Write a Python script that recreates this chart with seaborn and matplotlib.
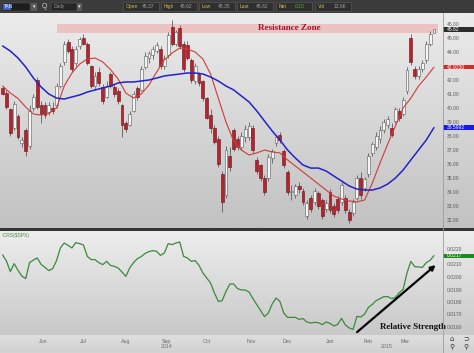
import numpy as np
import pandas as pd
import seaborn as sns
import matplotlib.pyplot as plt
import matplotlib.transforms as mtransforms
from matplotlib.colors import LinearSegmentedColormap
from matplotlib.patches import Rectangle
from matplotlib.lines import Line2D

# TAN daily candles, one every second session from 1 May 2014
candle_open = [41.4, 41.1, 39.9, 38.6, 39.4, 37.5, 38.4, 37.3, 40.0, 42.0,
               40.2, 40.2, 39.7, 40.0, 40.2, 41.6, 43.3, 44.7, 44.2, 43.2,
               44.4, 45.0, 44.6, 43.0, 41.6, 42.6, 41.5, 40.8, 42.4, 41.5,
               41.2, 40.2, 38.9, 38.8, 39.8, 41.4, 41.3, 42.9, 43.6, 43.8,
               44.1, 44.2, 43.0, 43.8, 45.8, 44.6, 45.7, 44.6, 44.5, 43.4,
               41.9, 42.4, 41.9, 40.7, 39.5, 38.6, 37.8, 35.3, 33.8, 36.6,
               38.4, 37.8, 37.2, 37.9, 37.9, 38.6, 36.3, 35.9, 35.0, 35.0,
               36.4, 37.5, 38.1, 36.9, 35.4, 34.0, 33.8, 34.4, 34.1, 32.3,
               33.6, 33.3, 33.9, 33.4, 32.8, 34.0, 33.0, 33.5, 33.3, 33.6,
               32.6, 32.5, 33.6, 35.0, 34.3, 35.3, 36.8, 37.2, 37.8, 38.4,
               38.8, 38.6, 39.1, 39.8, 39.6, 41.2, 45.0, 42.8, 42.3, 42.8,
               43.4, 44.6, 45.37]
candle_high = [41.6, 41.3, 40.0, 40.5, 39.6, 37.9, 38.6, 40.2, 41.0, 42.2,
               40.5, 40.4, 40.4, 40.4, 41.8, 43.2, 44.8, 44.9, 44.4, 44.4,
               45.1, 45.3, 44.7, 43.1, 42.6, 42.9, 41.7, 41.9, 42.6, 41.7,
               41.4, 40.3, 39.1, 39.8, 41.2, 41.6, 43.0, 44.0, 44.1, 44.4,
               44.7, 44.4, 43.8, 45.4, 46.3, 45.6, 45.9, 44.8, 44.8, 43.6,
               43.2, 42.6, 42.0, 40.8, 39.9, 38.8, 38.0, 35.5, 37.3, 37.2,
               38.6, 38.0, 38.3, 38.8, 39.0, 38.8, 36.5, 36.0, 35.2, 36.7,
               37.1, 38.1, 38.3, 37.1, 35.6, 34.5, 34.6, 34.7, 34.3, 33.4,
               33.8, 34.3, 34.1, 33.6, 33.4, 34.2, 33.2, 33.7, 34.7, 33.8,
               32.8, 33.5, 35.2, 35.4, 35.1, 36.8, 37.6, 38.3, 38.7, 39.2,
               39.4, 38.9, 40.1, 40.0, 40.8, 42.9, 45.3, 43.0, 43.0, 43.4,
               44.8, 45.5, 45.62]
candle_low = [40.9, 39.9, 38.0, 38.4, 37.8, 37.2, 36.6, 37.1, 39.8, 39.9,
              38.9, 39.3, 39.5, 39.6, 40.0, 41.4, 43.1, 43.9, 42.6, 43.0,
              44.2, 44.5, 43.1, 41.4, 41.3, 41.6, 40.3, 40.7, 41.4, 40.8,
              40.3, 37.9, 38.3, 38.7, 39.7, 40.6, 41.2, 42.8, 43.2, 43.5,
              43.9, 42.8, 42.8, 43.6, 44.4, 44.4, 44.2, 42.6, 43.4, 41.8,
              41.7, 41.6, 40.5, 39.2, 38.2, 37.4, 35.8, 32.6, 33.6, 35.5,
              36.9, 37.0, 37.0, 37.6, 37.7, 36.8, 35.3, 34.8, 33.8, 34.8,
              36.1, 37.3, 37.5, 35.7, 33.8, 33.4, 33.6, 33.9, 33.1, 32.1,
              32.6, 33.1, 32.8, 32.1, 32.6, 32.5, 32.2, 32.5, 33.1, 32.5,
              31.8, 32.3, 33.4, 33.5, 34.1, 35.1, 36.6, 37.0, 37.5, 38.2,
              38.6, 37.9, 38.9, 39.1, 39.4, 41.0, 43.1, 42.1, 42.1, 42.6,
              43.2, 44.4, 45.35]
candle_close = [41.0, 40.1, 38.2, 40.3, 37.9, 37.7, 36.9, 39.8, 40.8, 40.1,
                39.6, 39.5, 40.2, 39.8, 41.6, 43.0, 44.6, 44.1, 42.8, 44.2,
                44.9, 44.6, 43.2, 41.6, 42.3, 41.8, 40.5, 41.6, 41.6, 41.0,
                40.5, 38.8, 38.5, 39.6, 41.0, 40.8, 42.8, 43.7, 43.9, 44.2,
                44.5, 43.0, 43.6, 45.2, 44.6, 45.4, 44.4, 42.8, 43.6, 42.0,
                43.0, 41.8, 40.7, 39.3, 38.6, 37.6, 36.0, 33.3, 37.0, 35.8,
                37.1, 37.2, 38.0, 38.5, 38.7, 37.0, 35.5, 35.0, 34.0, 36.5,
                36.9, 37.9, 37.7, 35.9, 34.0, 34.1, 34.4, 34.2, 33.3, 33.2,
                32.8, 34.1, 33.0, 32.3, 33.2, 32.7, 32.4, 32.7, 34.5, 32.7,
                32.0, 33.3, 35.0, 33.8, 34.9, 36.6, 37.4, 38.0, 38.4, 39.0,
                39.2, 38.1, 39.9, 39.3, 40.6, 42.7, 43.3, 42.3, 42.8, 43.2,
                44.6, 45.3, 45.62]

# 20-day (red) and 50-day (blue) moving averages, every fourth session
ma_short = [41.57, 41.07, 40.68, 40.07, 39.57, 39.50, 39.61, 40.00, 41.57, 42.50,
            43.14, 43.50, 43.57, 43.29, 42.75, 42.07, 41.07, 40.71, 41.00, 41.64,
            42.57, 43.43, 43.93, 44.29, 44.21, 44.00, 43.50, 42.43, 40.71, 39.00,
            37.64, 37.00, 36.64, 36.79, 37.00, 36.86, 36.79, 36.29, 35.86, 35.43,
            35.00, 34.57, 34.14, 33.71, 33.50, 33.36, 33.29, 33.43, 34.64, 36.07,
            37.43, 38.71, 40.00, 40.71, 41.57, 42.21, 42.92]
ma_long = [44.43, 44.07, 43.57, 42.93, 42.14, 41.50, 41.00, 40.71, 40.64, 40.79,
           40.93, 41.14, 41.29, 41.43, 41.57, 41.79, 41.86, 41.86, 41.93, 42.00,
           42.14, 42.29, 42.36, 42.43, 42.50, 42.50, 42.43, 42.21, 41.93, 41.57,
           41.29, 40.86, 40.43, 39.79, 39.07, 38.36, 37.71, 37.00, 36.43, 35.93,
           35.71, 35.71, 35.50, 35.14, 34.79, 34.43, 34.21, 34.14, 34.14, 34.29,
           34.57, 35.00, 35.57, 36.29, 37.00, 37.71, 38.60]

# CRS($SPX): TAN relative to the S&P 500, same sessions as the candles
rs_values = [0.02176, 0.02128, 0.02043, 0.02107, 0.02053, 0.02008, 0.01987, 0.02115, 0.02136, 0.02152,
             0.02101, 0.02077, 0.02051, 0.02067, 0.02131, 0.02232, 0.02272, 0.02253, 0.02232, 0.02275,
             0.02267, 0.02256, 0.02165, 0.02139, 0.02139, 0.02115, 0.02099, 0.02125, 0.02093, 0.02085,
             0.02072, 0.02040, 0.02005, 0.02072, 0.02115, 0.02147, 0.02163, 0.02189, 0.02203, 0.02211,
             0.02205, 0.02173, 0.02192, 0.02267, 0.02259, 0.02272, 0.02280, 0.02165, 0.02152, 0.02125,
             0.02131, 0.02093, 0.02032, 0.01992, 0.01952, 0.01872, 0.01805, 0.01811, 0.01885, 0.01944,
             0.01944, 0.01907, 0.01896, 0.01896, 0.01880, 0.01827, 0.01779, 0.01731, 0.01683, 0.01712,
             0.01784, 0.01832, 0.01805, 0.01712, 0.01677, 0.01677, 0.01677, 0.01661, 0.01667, 0.01640,
             0.01632, 0.01637, 0.01635, 0.01619, 0.01640, 0.01629, 0.01608, 0.01621, 0.01669, 0.01616,
             0.01592, 0.01581, 0.01685, 0.01680, 0.01704, 0.01757, 0.01781, 0.01811, 0.01827, 0.01843,
             0.01843, 0.01827, 0.01837, 0.01875, 0.01901, 0.02032, 0.02125, 0.02083, 0.02080, 0.02077,
             0.02115, 0.02133, 0.02171]

quote_labels = ["Open", "High", "Low", "Last", "Net", "Vol"]
quote_values = ["45.37", "45.62", "45.35", "45.62", "0.15", "13.6K"]
last_close, last_ma_short, last_ma_long, last_rs = 45.62, 42.9230, 38.5992, 0.0217

# 43.00 is hidden under the moving-average tag in the original
price_ticks = [32, 33, 34, 35, 36, 37, 38, 39, 40, 41, 42, 44, 45, 46]
rs_ticks = [0.0160, 0.0170, 0.0180, 0.0190, 0.0200, 0.0210, 0.0220]

resistance_zone = (45.36, 46.0)
resistance_span = ("2014-06-11", "2015-03-25")
resistance_label_at = "2014-12-02"
strength_label_at = ("2015-03-06", 0.0160)
arrow_from = ("2015-01-22", 0.01545)
arrow_to = ("2015-03-25", 0.02110)

nyse_holidays = ["2014-05-26", "2014-07-04", "2014-09-01", "2014-11-27",
                 "2014-12-25", "2015-01-01", "2015-01-19", "2015-02-16"]

sessions = pd.bdate_range("2014-05-01", "2015-03-31", freq="C", holidays=nyse_holidays)
session_pos = pd.Series(np.arange(len(sessions)), index=sessions)

candles = pd.DataFrame({"open": candle_open, "high": candle_high,
                        "low": candle_low, "close": candle_close})
candles["pos"] = session_pos.values[::2][:len(candles)]
ma = pd.DataFrame({"short": ma_short, "long": ma_long})
ma["pos"] = session_pos.values[::4][:len(ma)]
rs = pd.DataFrame({"rs": rs_values, "pos": candles["pos"]})


def pos_of(day):
    return session_pos.index.get_indexer([pd.Timestamp(day)], method="bfill")[0]


sns.set_theme(style="white")
plt.rcParams["font.family"] = ["Liberation Sans", "DejaVu Sans"]

W, H = 474, 353
TOP, MID, SEP, BOT, RIGHT = 13, 228, 231, 335, 443
fig = plt.figure(figsize=(W / 100, H / 100), dpi=100)


def box(top, bottom, left=0, right=W):
    return [left / W, 1 - bottom / H, (right - left) / W, (bottom - top) / H]


def shaded(rect, c_top, c_bottom):
    bg = fig.add_axes(rect, zorder=0)
    bg.imshow(np.linspace(0, 1, 128).reshape(-1, 1), aspect="auto", extent=[0, 1, 0, 1],
              cmap=LinearSegmentedColormap.from_list("bg", [c_top, c_bottom]))
    bg.set_axis_off()


shaded(box(TOP, MID), "#ececec", "#c2c2c2")
shaded(box(SEP, BOT), "#ededed", "#c9c9c9")
shaded(box(BOT, H), "#dedede", "#d2d2d2")
fig.add_artist(Rectangle((0, 1 - SEP / H), 1, (SEP - MID) / H, transform=fig.transFigure,
                         facecolor="#353535", edgecolor="none", zorder=2))
fig.add_artist(Line2D([RIGHT / W] * 2, [0, 1 - TOP / H], transform=fig.transFigure,
                      color="#9c9c9c", lw=0.6, zorder=3))

xlim = (-1.35, 228.7)

# ---- price panel
ax = fig.add_axes(box(TOP, MID, 0, RIGHT), zorder=1)
ax.set_facecolor("none")
z0, z1 = pos_of(resistance_span[0]), pos_of(resistance_span[1])
ax.add_patch(Rectangle((z0, resistance_zone[0]), z1 - z0, resistance_zone[1] - resistance_zone[0],
                       facecolor="#ebc3c3", edgecolor="none", zorder=1))
ax.text(pos_of(resistance_label_at), sum(resistance_zone) / 2, "Resistance Zone",
        family=["Liberation Serif"], fontweight="bold", fontsize=6.6, color="#a8122e",
        ha="center", va="center", zorder=2)

up = candles["close"] >= candles["open"]
ax.vlines(candles["pos"], candles["low"], candles["high"], color="#474747", lw=0.5, zorder=3)
ax.bar(candles["pos"][up], (candles["close"] - candles["open"])[up], bottom=candles["open"][up],
       width=1.5, color="#f4f4f4", edgecolor="#5a5a5a", linewidth=0.4, zorder=4)
ax.bar(candles["pos"][~up], (candles["open"] - candles["close"])[~up], bottom=candles["close"][~up],
       width=1.5, color="#b3242e", edgecolor="#6a1016", linewidth=0.4, zorder=4)

sns.lineplot(data=ma, x="pos", y="short", ax=ax, color="#d03a3a", lw=0.8, zorder=5)
sns.lineplot(data=ma, x="pos", y="long", ax=ax, color="#2323c8", lw=1.1, zorder=5)

ax.set_xlim(xlim)
ax.set_ylim(46 - (MID - 24) / 14, 46 + (24 - TOP) / 14)
ax.set_xticks([])
ax.set_yticks(price_ticks)
ax.set_yticklabels([f"{t:.2f}" for t in price_ticks])
ax.yaxis.tick_right()
ax.tick_params(axis="y", length=0, pad=3, labelsize=3.6, labelcolor="#5a5a5a")
ax.set_xlabel("")
ax.set_ylabel("")
for s in ax.spines.values():
    s.set_visible(False)


def value_tag(a, y, text, color, height):
    trans = mtransforms.blended_transform_factory(fig.transFigure, a.transData)
    a.add_patch(Rectangle((RIGHT / W, y - height / 2), (W - RIGHT) / W, height, transform=trans,
                          facecolor=color, edgecolor="none", clip_on=False, zorder=6))
    a.text((RIGHT + 4) / W, y, text, transform=trans, color="white", fontsize=3.6,
           va="center", ha="left", clip_on=False, zorder=7)


value_tag(ax, last_close, f"{last_close:.2f}", "#2e2e2e", 0.32)
value_tag(ax, last_ma_short, f"{last_ma_short:.4f}", "#d42a2a", 0.32)
value_tag(ax, last_ma_long, f"{last_ma_long:.4f}", "#1a1ae6", 0.32)

# ---- relative strength panel
ax2 = fig.add_axes(box(SEP, BOT, 0, RIGHT), zorder=1)
ax2.set_facecolor("none")
sns.lineplot(data=rs, x="pos", y="rs", ax=ax2, color="#3a8a3a", lw=0.9, zorder=3)
ax2.set_xlim(xlim)
ax2.set_ylim(0.0160 - (BOT - 327) / 12500, 0.0160 + (327 - SEP) / 12500)
ax2.set_yticks(rs_ticks)
ax2.set_yticklabels([f"{t:.4f}" for t in rs_ticks])
ax2.yaxis.tick_right()
ax2.tick_params(axis="y", length=0, pad=3, labelsize=3.6, labelcolor="#5a5a5a")
# the top label peeks out just above the green tag, as in the original
ax2.get_yticklabels()[-1].set_va("bottom")

month_first = session_pos.groupby([sessions.year, sessions.month]).first()
month_first = month_first[(month_first > xlim[0] + 5) & (month_first < xlim[1])]
ax2.set_xticks(month_first.values)
ax2.set_xticklabels([sessions[p].strftime("%b") for p in month_first.values])
ax2.tick_params(axis="x", length=0, pad=3, labelsize=3.8, labelcolor="#6a6a6a")
xtrans = mtransforms.blended_transform_factory(ax2.transData, ax2.transAxes)
for year in (2014, 2015):
    yr = session_pos[sessions.year == year]
    mid = (max(yr.min(), xlim[0]) + min(yr.max() + 1, xlim[1])) / 2
    ax2.text(mid, -(347 - BOT) / (BOT - SEP), str(year), transform=xtrans,
             fontsize=3.8, color="#6a6a6a", ha="center", va="center", clip_on=False)
ax2.set_xlabel("")
ax2.set_ylabel("")
for s in ax2.spines.values():
    s.set_visible(False)

ax2.text(0.004, 0.96, "-CRS($SPX)", transform=ax2.transAxes, fontsize=3.6, color="#4a8a4a",
         ha="left", va="center")
value_tag(ax2, last_rs, f"{last_rs:.4f}", "#1d8a1d", 0.00032)

ax2.annotate("", xy=(pos_of(arrow_to[0]), arrow_to[1]), xytext=(pos_of(arrow_from[0]), arrow_from[1]),
             arrowprops=dict(arrowstyle="-|>", color="black", lw=1.6, mutation_scale=7),
             annotation_clip=False, zorder=6)
ax2.text(pos_of(strength_label_at[0]), strength_label_at[1], "Relative Strength",
         family=["Liberation Serif"], fontweight="bold", fontsize=6.4, color="#111111",
         ha="center", va="center", zorder=7)

# ---- corner icons
for px, py, glyph in [(452, 339, "\u2302"), (466, 339, "\u2283"), (452, 347, "\u26b2"), (466, 347, "\u26b2")]:
    fig.text(px / W, 1 - py / H, glyph, fontsize=5, color="#333333", ha="center", va="center",
             family=["DejaVu Sans"])

# ---- toolbar
tb = fig.add_axes(box(0, TOP), zorder=2)
tb.set_xlim(0, W)
tb.set_ylim(TOP, 0)
tb.set_facecolor("#3b3b3b")
tb.set_xticks([])
tb.set_yticks([])
for s in tb.spines.values():
    s.set_visible(False)

tb.add_patch(Rectangle((2, 2.5), 28, 8, facecolor="#1d1d1d", edgecolor="#6a6a6a", lw=0.3))
tb.add_patch(Rectangle((3, 3.5), 8, 6, facecolor="#3a63c4", edgecolor="none"))
tb.text(3.5, 6.6, "TAN", fontsize=3.4, color="white", va="center")
tb.add_patch(Rectangle((31, 2.5), 6, 8, facecolor="#5a5a5a", edgecolor="none"))
tb.text(34, 6.5, "\u25be", fontsize=3.5, color="white", ha="center", va="center")
tb.text(44, 6.5, "Q", fontsize=5, color="#cfcfcf", ha="center", va="center")
tb.add_patch(Rectangle((51, 2.5), 26, 8, facecolor="#262626", edgecolor="#6a6a6a", lw=0.3))
tb.text(54, 6.6, "Daily", fontsize=3.6, color="#9a9a9a", va="center")
tb.add_patch(Rectangle((77, 2.5), 5, 8, facecolor="#5a5a5a", edgecolor="none"))
tb.text(79.5, 6.5, "\u25be", fontsize=3.5, color="white", ha="center", va="center")

quote_x = [123, 161, 199, 237, 276, 315]
for x0, lab, val in zip(quote_x, quote_labels, quote_values):
    tb.add_patch(Rectangle((x0, 2), 36, 9, facecolor="#2f2f2f", edgecolor="#5e5e5e", lw=0.4))
    tb.text(x0 + 3, 6.6, lab, fontsize=3.6, color="#d8b84a", va="center")
    tb.text(x0 + 19, 6.6, val, fontsize=3.6, va="center",
            color="#4caf3c" if lab == "Net" else "#a0a0a0")

fig.savefig("out.png", dpi=100)
